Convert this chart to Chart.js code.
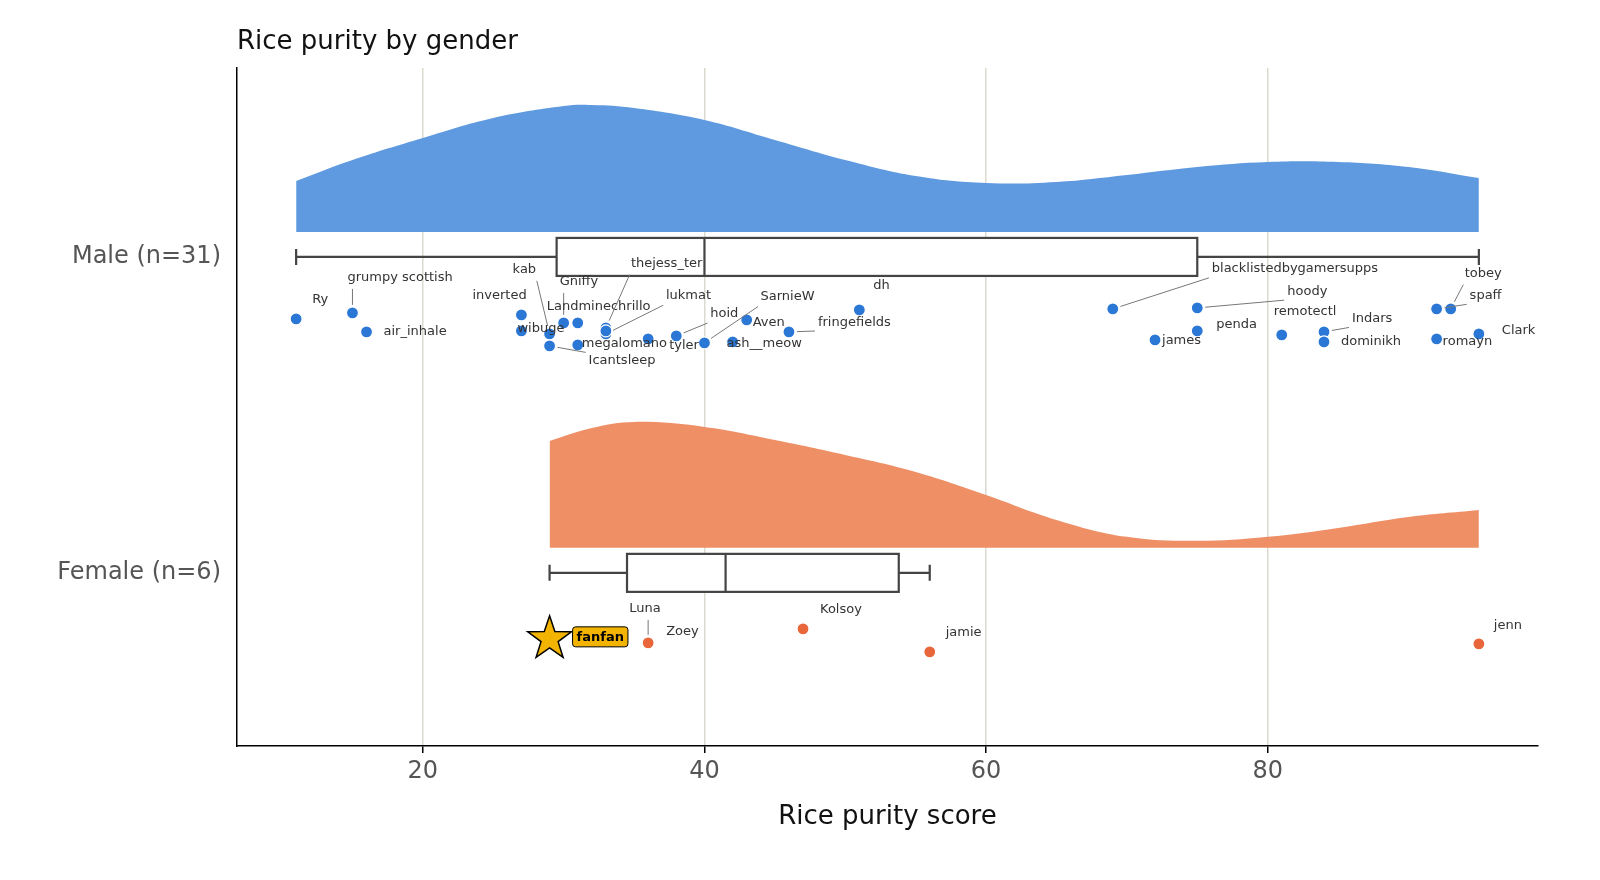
<!DOCTYPE html>
<html><head><meta charset="utf-8">
<script src="https://cdn.jsdelivr.net/npm/chart.js@4"></script>
<style>html,body{margin:0;background:#fff;overflow:hidden}#w{width:1600px;height:880px}</style>
</head><body><div id="w"><canvas id="c"></canvas></div>
<script>
const categories = ["Female (n=6)", "Male (n=31)"];
const densityX = [11,15,20,25,30,32,35,40,45,50,55,60,65,70,75,80,85,90,95];
const maleDensityTop = [181,160,138,118,106,105,108,120,140,160,176,183,182,175,167,162,162,167,178];
const femaleDensityX = [29,32,35,40,45,50,55,60,65,70,75,80,85,90,95];
const femaleDensityTop = [441,428,422,427,440,455,472,495,520,537,541,537,528,517,510];
const maleNames = ["Ry","grumpy scottish","air_inhale","inverted","wibuge","kab","Icantsleep","Gniffy","Landminechrillo","megalomano","thejess_ter","lukmat","","tyler","hoid","SarnieW","ash__meow","Aven","fringefields","dh","blacklistedbygamersupps","james","hoody","penda","remotectl","Indars","dominikh","spaff","tobey","romayn","Clark"];
const maleScores = [11,15,16,27,27,29,29,30,31,31,33,33,33,36,38,40,42,43,46,51,69,72,75,75,81,84,84,92,93,92,95];
const malePx = [319,313,332,315,331,334,346,323,323,345,328,334,331,339,336,343,342,320,332,310,309,340,308,331,335,332,342,309,309,339,334];
const maleDx = [16,-5,17,-49,-4,-37,39,-4,-31,4,25,60,0,21,34,56,-6,6,29,14,99,7,90,19,-8,28,17,33,14,6,23];
const maleDy = [-19,-35,0,-19,-2,-64,15,-41,-16,-1,-64,-38,0,7,-22,-46,2,3,-9,-24,-40,1,-16,-6,-23,-13,0,-13,-35,3,-3];
const femaleNames = ["fanfan","Luna","Zoey","Kolsoy","jamie","jenn"];
const femaleScores = [29,36,36,47,56,95];
const femalePx = [637,643,643,629,652,644];
const femaleDx = [0,-19,18,17,16,15];
const femaleDy = [0,-34,-11,-19,-19,-18];
const maleBox = {min:11,q1:29.5,med:40,q3:75,max:95};
const femaleBox = {min:29,q1:34.5,med:41.5,q3:53.8,max:56};
const xTicks = [20,40,60,80];

const pxToY = p => 1 + (257 - p)/316;
const toPts = (xs, ps) => xs.map((x,i)=>({x, y: pxToY(ps[i])}));

function drawLabel(ctx, n, px, py, dx, dy){
  const w = ctx.measureText(n).width;
  if (Math.hypot(dx, dy) > 30) {
    // leader from point to nearest point of label box
    const lx = Math.max(px+dx, Math.min(px, px+dx+w)), ly = py+dy + (dy<0?8:-8);
    const d = Math.hypot(lx-px, ly-py);
    if (d > 20) {
      ctx.beginPath(); ctx.strokeStyle='#777'; ctx.lineWidth=1;
      ctx.moveTo(px+(lx-px)*8/d, py+(ly-py)*8/d);
      ctx.lineTo(lx-(lx-px)*3/d, ly-(ly-py)*3/d); ctx.stroke();
    }
  }
  ctx.fillText(n, px+dx, py+dy);
}

const labelPlugin = {
  id:'extras',
  afterDatasetsDraw(chart){
    const {ctx, scales:{x,y}, chartArea:a} = chart;
    ctx.save();
    [[maleBox,1],[femaleBox,0]].forEach(([b,c])=>{
      const yc = y.getPixelForValue(c), h=19;
      ctx.strokeStyle='#444'; ctx.lineWidth=2.2;
      ctx.beginPath();
      ctx.moveTo(x.getPixelForValue(b.min), yc); ctx.lineTo(x.getPixelForValue(b.q1), yc);
      ctx.moveTo(x.getPixelForValue(b.q3), yc); ctx.lineTo(x.getPixelForValue(b.max), yc);
      ctx.moveTo(x.getPixelForValue(b.min), yc-8); ctx.lineTo(x.getPixelForValue(b.min), yc+8);
      ctx.moveTo(x.getPixelForValue(b.max), yc-8); ctx.lineTo(x.getPixelForValue(b.max), yc+8);
      ctx.stroke();
      ctx.fillStyle='#fff';
      const x1=x.getPixelForValue(b.q1), x3=x.getPixelForValue(b.q3);
      ctx.fillRect(x1,yc-h,x3-x1,2*h); ctx.strokeRect(x1,yc-h,x3-x1,2*h);
      ctx.beginPath(); ctx.moveTo(x.getPixelForValue(b.med),yc-h); ctx.lineTo(x.getPixelForValue(b.med),yc+h); ctx.stroke();
    });
    ctx.font='13px "DejaVu Sans"'; ctx.fillStyle='#333'; ctx.textBaseline='middle'; ctx.textAlign='left';
    maleNames.forEach((n,i)=>{ if(!n) return;
      drawLabel(ctx, n, x.getPixelForValue(maleScores[i]), y.getPixelForValue(pxToY(malePx[i])), maleDx[i], maleDy[i]);});
    femaleNames.forEach((n,i)=>{ if(i===0) return;
      drawLabel(ctx, n, x.getPixelForValue(femaleScores[i]), y.getPixelForValue(pxToY(femalePx[i])), femaleDx[i], femaleDy[i]);});
    const sx=x.getPixelForValue(femaleScores[0]), sy=y.getPixelForValue(pxToY(femalePx[0]));
    ctx.beginPath();
    for(let k=0;k<10;k++){const r=k%2?9:23, ang=-Math.PI/2+k*Math.PI/5; ctx.lineTo(sx+r*Math.cos(ang), sy+r*Math.sin(ang)+2);}
    ctx.closePath(); ctx.fillStyle='#f2b400'; ctx.fill(); ctx.strokeStyle='#000'; ctx.lineWidth=1.5; ctx.stroke();
    ctx.font='bold 13px "DejaVu Sans"';
    const tw=ctx.measureText('fanfan').width;
    ctx.beginPath(); ctx.roundRect(sx+23, sy-10, tw+8, 20, 3); ctx.fillStyle='#f2b400'; ctx.fill(); ctx.lineWidth=1; ctx.stroke();
    ctx.fillStyle='#000'; ctx.fillText('fanfan', sx+27, sy+1);
    ctx.font='26px "DejaVu Sans"'; ctx.fillStyle='#111';
    ctx.fillText('Rice purity by gender', 237, 42);
    ctx.textAlign='center'; ctx.fillText('Rice purity score', (a.left+a.right)/2, 817);
    ctx.restore();
  }
};

new Chart(document.getElementById('c'), {
  type:'scatter',
  data:{datasets:[
    {type:'line', data: toPts(densityX, maleDensityTop), borderWidth:0, pointRadius:0, tension:0.4, fill:{value:pxToY(232)}, backgroundColor:'#5f9ae0'},
    {type:'line', data: toPts(femaleDensityX, femaleDensityTop), borderWidth:0, pointRadius:0, tension:0.4, fill:{value:pxToY(548)}, backgroundColor:'#ef8f66'},
    {data: toPts(maleScores, malePx), pointRadius:6, pointBackgroundColor:'#2a77d6', pointBorderColor:'#fff', pointBorderWidth:1.2},
    {data: toPts(femaleScores.slice(1), femalePx.slice(1)), pointRadius:6, pointBackgroundColor:'#e8663a', pointBorderColor:'#fff', pointBorderWidth:1.2}
  ]},
  options:{
    responsive:true, maintainAspectRatio:false, animation:false,
    layout:{padding:{top:68,right:62}},
    plugins:{legend:{display:false}, tooltip:{enabled:false}},
    scales:{
      x:{type:'linear', min:6.8, max:99.2,
        afterBuildTicks: s=>{s.ticks = xTicks.map(v=>({value:v}));},
        grid:{color:'#dcd9cf', lineWidth:1.5, drawTicks:true, tickColor:'#000', tickLength:7},
        border:{color:'#000', width:1.5},
        ticks:{font:{size:24, family:'DejaVu Sans'}, color:'#555', padding:4},
        afterFit: s=>{s.height=134;}},
      y:{type:'linear', min:-0.548, max:1.598,
        afterBuildTicks: s=>{s.ticks=[{value:0},{value:1}];},
        grid:{display:false, drawTicks:true, tickColor:'#000', tickLength:8},
        border:{color:'#000', width:1.5},
        ticks:{font:{size:24, family:'DejaVu Sans'}, color:'#555', callback:v=>categories[v], padding:8},
        afterFit: s=>{s.width=237;}}
    }
  },
  plugins:[labelPlugin]
});
</script></body></html>
